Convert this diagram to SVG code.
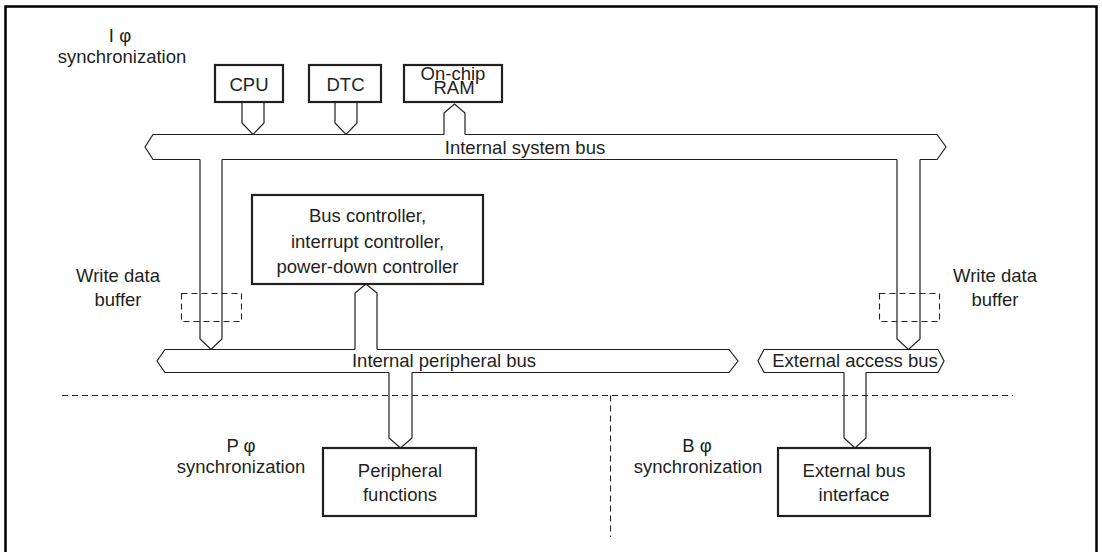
<svg xmlns="http://www.w3.org/2000/svg" width="1102" height="552" viewBox="0 0 1102 552">
<style>
text{font-family:"Liberation Sans",Arial,sans-serif;font-size:18.5px;fill:#231f20;text-anchor:middle}
.box{fill:#fff;stroke:#231f20;stroke-width:2.2}
.bus{fill:none;stroke:#231f20;stroke-width:1.2;stroke-linejoin:miter}
.dash{fill:none;stroke:#231f20;stroke-width:1.1;stroke-dasharray:6 4}
</style>
<rect x="5.5" y="6.5" width="1091" height="570" fill="#fff" stroke="#000" stroke-width="2.5"/>
<g id="separators">
<line class="dash" x1="62" y1="395.5" x2="1013" y2="395.5"/>
<line class="dash" x1="610.5" y1="395.5" x2="610.5" y2="537"/>
</g>
<g id="domain-labels">
<text x="120" y="42">I φ</text>
<text x="122" y="63">synchronization</text>
<text x="241" y="452">P φ</text>
<text x="241" y="473">synchronization</text>
<text x="697" y="452">B φ</text>
<text x="698" y="473">synchronization</text>
</g>
<g id="internal-system-bus">
<path class="bus" d="M444,134.5 H153 L145,147 L153,159.5 H200 M222,159.5 H897 M920,159.5 H937 L946,147 L937,134.5 H465"/>
<text x="525" y="154">Internal system bus</text>
</g>
<g id="internal-peripheral-bus">
<path class="bus" d="M355,349.5 H165 L157,361 L165,372.5 H389 M412,372.5 H729 L738,361 L729,349.5 H377"/>
<text x="444" y="367">Internal peripheral bus</text>
</g>
<g id="external-access-bus">
<path class="bus" d="M844,372.5 H764 L758,361 L764,349.5 H938 L944,361 L938,372.5 H866"/>
<text x="855" y="367">External access bus</text>
</g>
<g id="connectors">
<path class="bus" d="M242,102 V123 L253,134.5 L264,123 V102"/>
<path class="bus" d="M335,102 V123 L346,134.5 L357,123 V102"/>
<path class="bus" d="M444,134.5 V113 L454.5,104 L465,113 V134.5"/>
<path class="bus" d="M200,159.5 V339 L211,349.5 L222,339 V159.5"/>
<path class="bus" d="M897,159.5 V339 L908.5,349.5 L920,339 V159.5"/>
<path class="bus" d="M355,349.5 V293 L366,284 L377,293 V349.5"/>
<path class="bus" d="M389,372.5 V438 L400.5,448 L412,438 V372.5"/>
<path class="bus" d="M844,372.5 V438 L855,448 L866,438 V372.5"/>
</g>
<g id="cpu">
<rect class="box" x="215" y="65" width="68" height="37"/>
<text x="249" y="91">CPU</text>
</g>
<g id="dtc">
<rect class="box" x="309" y="65" width="72" height="37"/>
<text x="345.5" y="91">DTC</text>
</g>
<g id="onchip-ram">
<rect class="box" x="404" y="65" width="98" height="37"/>
<text x="453" y="80">On-chip</text>
<text x="454" y="94">RAM</text>
</g>
<g id="bus-controller">
<rect class="box" x="252" y="195" width="231" height="89"/>
<text x="367.5" y="222">Bus controller,</text>
<text x="367.5" y="247.5">interrupt controller,</text>
<text x="367.5" y="273">power-down controller</text>
</g>
<g id="write-buffer-left">
<rect class="dash" x="181.5" y="293.5" width="60" height="28"/>
<text x="118" y="282">Write data</text>
<text x="118" y="306">buffer</text>
</g>
<g id="write-buffer-right">
<rect class="dash" x="879.5" y="293.5" width="60" height="28"/>
<text x="995" y="282">Write data</text>
<text x="995" y="306">buffer</text>
</g>
<g id="peripheral-functions">
<rect class="box" x="323" y="448" width="153" height="68"/>
<text x="400" y="477">Peripheral</text>
<text x="400" y="501">functions</text>
</g>
<g id="external-bus-interface">
<rect class="box" x="778" y="448" width="152" height="68"/>
<text x="854" y="477">External bus</text>
<text x="854" y="501">interface</text>
</g>
</svg>
